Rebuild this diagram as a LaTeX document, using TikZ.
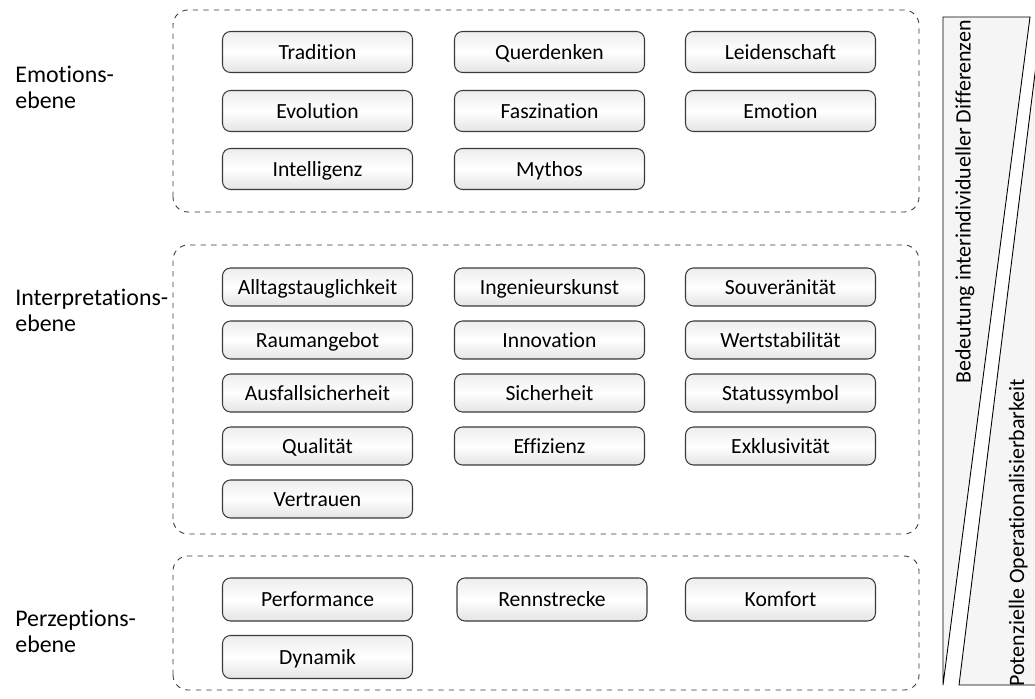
\documentclass[tikz,border=0pt]{standalone}
\usepackage{fontspec}
\setmainfont{Carlito}[Ligatures=NoCommon]
\usepackage{tikz}
\usetikzlibrary{positioning, calc}
\definecolor{randcol}{HTML}{3A3A3A}
\definecolor{keilcol}{HTML}{F5F5F5}
\definecolor{boxtop}{HTML}{EDEDED}
\definecolor{boxbot}{HTML}{E4E4E4}
\tikzset{
  % dashed frame = level
  ebene/.style={draw=randcol, dashed, rounded corners=0.3cm, line width=0.5pt},
  % rounded box = attribute
  merkmal/.style={draw=randcol, rounded corners=0.16cm, line width=0.6pt,
                  top color=boxtop, bottom color=boxbot, middle color=white,
                  minimum width=3.8cm, minimum height=#1, inner sep=0pt,
                  text height=10.5pt, text depth=2pt,
                  font=\fontsize{12.3}{14}\selectfont},
  merkmal/.default=0.82cm,
  % level label on the left
  ebenelabel/.style={anchor=west, align=left, inner sep=0pt,
                     font=\fontsize{13.6}{14.8}\selectfont},
  % wedge on the right
  keil/.style={draw=black, fill=keilcol, line width=0.5pt},
  keiltext/.style={rotate=90, inner sep=0pt, font=\fontsize{12.5}{14}\selectfont},
}

\begin{document}
\begin{tikzpicture}
  \useasboundingbox (0,0) rectangle (20.7,13.96);
  % level frames
  \draw[ebene] (3.46,9.72) rectangle (18.38,13.76);
  \draw[ebene] (3.46,3.28) rectangle (18.38,9.06);
  \draw[ebene] (3.46,0.16) rectangle (18.38,2.84);
  % level labels
  \node[ebenelabel] (lemo) at (0.3,12.22)  {Emotions-\\ebene};
  \node[ebenelabel] (lint) at (0.3,7.76)  {Interpretations-\\ebene};
  \node[ebenelabel] (lper) at (0.3,1.33)  {Perzeptions-\\ebene};
  % emotion level
  \foreach \name/\x/\y/\txt in {e11/6.35/12.92/Tradition, e12/10.99/12.92/Querdenken,
                                 e13/15.61/12.92/Leidenschaft, e21/6.35/11.74/Evolution,
                                 e22/10.99/11.74/Faszination, e23/15.61/11.74/Emotion,
                                 e31/6.35/10.58/Intelligenz, e32/10.99/10.58/Mythos}
    \node[merkmal] (\name) at (\x,\y) {\txt};
  % interpretation level
  \foreach \name/\x/\y/\txt in {i11/6.35/8.22/Alltagstauglichkeit, i12/10.99/8.22/Ingenieurskunst,
                                 i13/15.61/8.22/Souveränität, i21/6.35/7.16/Raumangebot,
                                 i22/10.99/7.16/Innovation, i23/15.61/7.16/Wertstabilität,
                                 i31/6.35/6.10/Ausfallsicherheit, i32/10.99/6.10/Sicherheit,
                                 i33/15.61/6.10/Statussymbol, i41/6.35/5.04/Qualität,
                                 i42/10.99/5.04/Effizienz, i43/15.61/5.04/Exklusivität,
                                 i51/6.35/3.98/Vertrauen}
    \node[merkmal=0.76cm] (\name) at (\x,\y) {\txt};
  % perception level
  \foreach \name/\x/\y/\txt in {p11/6.35/1.97/Performance, p12/11.04/1.97/Rennstrecke,
                                 p13/15.61/1.97/Komfort, p21/6.35/0.82/Dynamik}
    \node[merkmal=0.86cm] (\name) at (\x,\y) {\txt};
  % wedges
  \draw[keil] (18.86,13.62) -- (20.6,13.62) -- (18.86,0.26) -- cycle;
  \draw[keil] (19.18,0.26) -- (20.84,13.62) -- (20.84,0.26) -- cycle;
  \node[keiltext, anchor=north east] (bedeutung) at (19.1,13.56) {Bedeutung interindividueller Differenzen};
  \node[keiltext, anchor=south west] (potenzial) at (20.56,0.22) {Potenzielle Operationalisierbarkeit};
\end{tikzpicture}
\end{document}
